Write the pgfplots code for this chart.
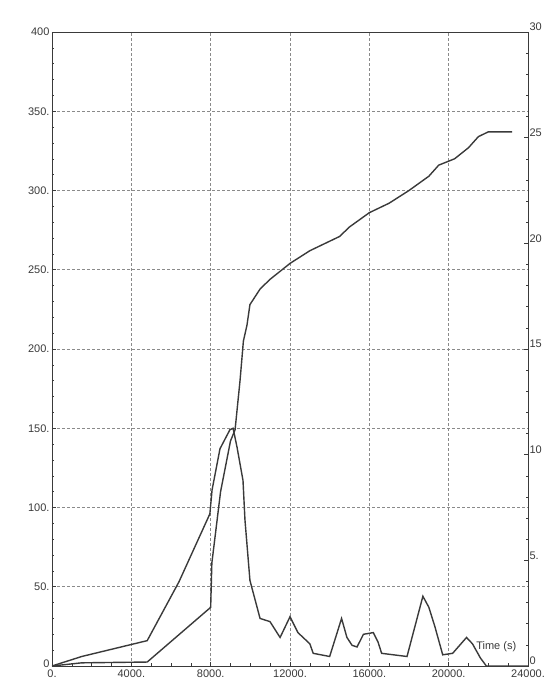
\documentclass[border=0pt]{standalone}
\usepackage{fontspec}
\setmainfont{Liberation Sans}
\usepackage{pgfplots}
\pgfplotsset{compat=1.18}
\definecolor{ink}{HTML}{3A3A3A}
\definecolor{gridc}{HTML}{8A8A8A}
\begin{document}
\begin{tikzpicture}[font=\fontsize{11}{13}\selectfont]
\begin{axis}[
  at={(0,0)}, anchor=south west,
  scale only axis, width=476pt, height=634pt,
  xmin=0, xmax=24000, ymin=0, ymax=400,
  axis line style={ink, line width=0.9pt},
  xtick={0,4000,8000,12000,16000,20000,24000},
  xticklabels={0.,4000.,8000.,12000.,16000.,20000.,24000.},
  ytick={0,50,100,150,200,250,300,350,400},
  yticklabels={\raisebox{5pt}{0},50.,100.,150.,200.,250.,300.,350.,400},
  xtick pos=bottom, ytick pos=left,
  minor x tick num=3, minor y tick num=4,
  tick style={ink, line width=0.5pt},
  major tick length=4pt, minor tick length=2.5pt,
  grid=major,
  major grid style={densely dashed, gridc, line width=0.7pt},
  ticklabel style={text=ink},
  xticklabel style={yshift=0pt},
  yticklabel style={xshift=1pt},
  scaled x ticks=false,
]
% H2 production (kg)
\addplot[ink, line width=1.4pt] coordinates {
(0,0) (1500,2) (4800,2.5) (8000,37) (8060,65) (8500,110) (9000,142)
(9230,149) (9480,180) (9650,205) (9830,215) (9980,228) (10500,238)
(11000,244) (12000,254) (13000,262) (14000,268) (14500,271) (15000,277)
(16000,286) (17000,292) (18000,300) (19000,309) (19500,316) (20300,320)
(21000,327) (21500,334) (22000,337) (23200,337)
};
\node[anchor=south west, text=ink, inner sep=1pt] at (rel axis cs:0.005,1.002) {H2 production (kg)};
\node[anchor=south east, text=ink, inner sep=1pt] at (rel axis cs:0.985,1.002) {Oxidation power (MW)};
\node[text=ink, inner sep=1pt] at (axis cs:22400,12) {Time (s)};
\end{axis}
\begin{axis}[
  at={(0,0)}, anchor=south west,
  scale only axis, width=476pt, height=634pt,
  xmin=0, xmax=24000, ymin=0, ymax=30,
  axis x line=none, axis y line*=right,
  axis line style={ink, line width=0.9pt},
  ytick={0,5,10,15,20,25,30},
  yticklabels={0,5.,10,15,20,25,30},
  minor y tick num=4,
  tick style={ink, line width=0.5pt},
  major tick length=4pt, minor tick length=2.5pt,
  ticklabel style={text=ink},
  yticklabel style={xshift=-2pt, yshift=5pt},
]
% Oxidation power (MW)
\addplot[ink, line width=1.4pt] coordinates {
(0,0) (1500,0.45) (4800,1.2) (6400,3.98) (7960,7.2) (8070,8.33) (8470,10.28)
(8970,11.18) (9130,11.25) (9330,10.35) (9630,8.78) (9730,6.9) (9980,4.05)
(10490,2.25) (10990,2.1) (11500,1.35) (12000,2.33) (12400,1.58) (13000,1.05)
(13170,0.6) (14000,0.45) (14600,2.25) (14870,1.35) (15130,0.98) (15380,0.9)
(15700,1.5) (16200,1.58) (16440,1.13) (16620,0.6) (17900,0.45) (18700,3.3)
(19000,2.78) (19300,1.88) (19700,0.53) (20200,0.6) (20900,1.35) (21200,1.05)
(21600,0.38) (21900,0) (24000,0)
};
\end{axis}
\pgfresetboundingbox
\useasboundingbox (-52pt,-24pt) rectangle (493pt,666pt);
\end{tikzpicture}
\end{document}
